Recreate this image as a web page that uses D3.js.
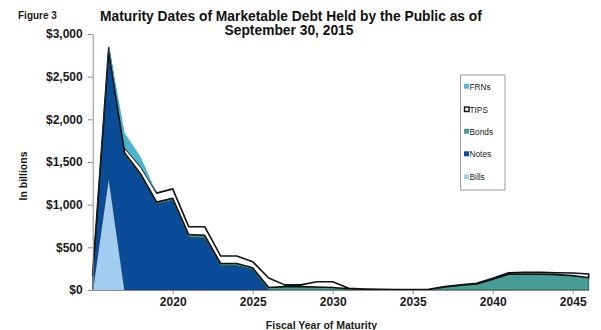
<!DOCTYPE html>
<html>
<head>
<meta charset="utf-8">
<script src="https://cdn.jsdelivr.net/npm/d3@7/dist/d3.min.js"></script>
<style>
  html, body { margin: 0; padding: 0; background: #fff; }
  svg { display: block; font-family: "Liberation Sans", Arial, sans-serif; }
</style>
</head>
<body>
<svg id="chart" width="601" height="330"></svg>
<script>
// Fiscal years of maturity (category axis)
const years = [2015, 2016, 2017, 2018, 2019, 2020, 2021, 2022, 2023, 2024, 2025,
               2026, 2027, 2028, 2029, 2030, 2031, 2032, 2033, 2034, 2035, 2036,
               2037, 2038, 2039, 2040, 2041, 2042, 2043, 2044, 2045, 2046];

// Marketable debt maturing in each year, billions of dollars
const bills = [0, 1330, 0, 0, 0, 0, 0, 0, 0, 0, 0,
               0, 0, 0, 0, 0, 0, 0, 0, 0, 0, 0,
               0, 0, 0, 0, 0, 0, 0, 0, 0, 0];
const notes = [170, 1460, 1580, 1340, 1010, 1050, 620, 610, 285, 285, 240,
               0, 0, 0, 0, 0, 0, 0, 0, 0, 0, 0,
               0, 0, 0, 0, 0, 0, 0, 0, 0, 0];
const bonds = [0, 10, 25, 20, 20, 25, 30, 30, 25, 25, 20,
               30, 40, 40, 35, 30, 15, 8, 5, 3, 3, 5,
               35, 55, 70, 125, 185, 185, 185, 180, 168, 144];
const tips  = [20, 40, 60, 85, 105, 110, 92, 102, 88, 88, 72,
               110, 20, 20, 62, 67, 5, 4, 2, 2, 2, 2,
               5, 5, 8, 12, 18, 22, 22, 23, 32, 44];
const frns  = [0, 30, 175, 115, 0, 0, 0, 0, 0, 0, 0,
               0, 0, 0, 0, 0, 0, 0, 0, 0, 0, 0,
               0, 0, 0, 0, 0, 0, 0, 0, 0, 0];

// Axis ticks
const xTicks = [2020, 2025, 2030, 2035, 2040, 2045];
const yTicks = [0, 500, 1000, 1500, 2000, 2500, 3000];

// Series, bottom to top in the stack
const seriesKeys  = ["Bills", "Notes", "Bonds", "TIPS", "FRNs"];
const legendOrder = ["FRNs", "TIPS", "Bonds", "Notes", "Bills"];

const style = {
  Bills: { fill: "#a3cdf0", stroke: "none", width: 0 },
  Notes: { fill: "#0b4c98", stroke: "#07336a", width: 0.8 },
  Bonds: { fill: "#469e97", stroke: "#1d4f4b", width: 0.8 },
  TIPS:  { fill: "#ffffff", stroke: "#111111", width: 1.6 },
  FRNs:  { fill: "#4cb3cb", stroke: "none", width: 0 }
};

const table = years.map((yr, i) => ({
  year: yr, Bills: bills[i], Notes: notes[i], Bonds: bonds[i], TIPS: tips[i], FRNs: frns[i]
}));

const svg = d3.select("#chart");
const plotLeft = 92.7, plotRight = 588.7, plotTop = 34, plotBottom = 290;

const x = d3.scaleLinear().domain([2015, 2046]).range([plotLeft, plotRight]);
const y = d3.scaleLinear().domain([0, 3000]).range([plotBottom, plotTop]);

const stacked = d3.stack().keys(seriesKeys)(table);

const area = d3.area()
  .x(d => x(d.data.year))
  .y0(d => y(d[0]))
  .y1(d => y(d[1]));

svg.append("g").selectAll("path")
  .data(stacked)
  .join("path")
  .attr("d", area)
  .attr("fill", d => style[d.key].fill)
  .attr("stroke", d => style[d.key].stroke)
  .attr("stroke-width", d => style[d.key].width)
  .attr("stroke-linejoin", "round");

// Y axis
const yAxis = svg.append("g")
  .attr("transform", `translate(${plotLeft},0)`)
  .call(d3.axisLeft(y).tickValues(yTicks).tickFormat(d3.format("$,")).tickSize(5).tickSizeOuter(0));
yAxis.select(".domain").attr("stroke", "#8a8a8a");
yAxis.selectAll(".tick line").attr("stroke", "#8a8a8a");
yAxis.selectAll(".tick text")
  .attr("x", -10)
  .attr("fill", "#1a1a1a")
  .style("font-size", "12px")
  .style("font-weight", "bold")
  .style("font-family", "'Liberation Sans', Arial, sans-serif");

// X axis
const xAxis = svg.append("g")
  .attr("transform", `translate(0,${plotBottom})`)
  .call(d3.axisBottom(x).tickValues(xTicks).tickFormat(d3.format("d")).tickSize(4).tickSizeOuter(0));
xAxis.select(".domain").attr("stroke", "#8a8a8a");
xAxis.selectAll(".tick line").attr("stroke", "#8a8a8a");
xAxis.selectAll(".tick text")
  .attr("y", 7)
  .attr("fill", "#1a1a1a")
  .style("font-size", "12px")
  .style("font-weight", "bold")
  .style("font-family", "'Liberation Sans', Arial, sans-serif");

// Titles
svg.append("text").attr("x", 18).attr("y", 19)
  .style("font-size", "10px").style("font-weight", "bold").attr("fill", "#1a1a1a")
  .text("Figure 3");

svg.append("text").attr("x", 291).attr("y", 21).attr("text-anchor", "middle")
  .style("font-size", "13.8px").style("font-weight", "bold").attr("fill", "#111")
  .text("Maturity Dates of Marketable Debt Held by the Public as of");
svg.append("text").attr("x", 289).attr("y", 35).attr("text-anchor", "middle")
  .style("font-size", "13.8px").style("font-weight", "bold").attr("fill", "#111")
  .text("September 30, 2015");

svg.append("text")
  .attr("transform", "translate(27,176) rotate(-90)")
  .attr("text-anchor", "middle")
  .style("font-size", "10.5px").style("font-weight", "bold").attr("fill", "#1a1a1a")
  .text("In billions");

svg.append("text").attr("x", 321.5).attr("y", 328.5).attr("text-anchor", "middle")
  .style("font-size", "10.5px").style("font-weight", "bold").attr("fill", "#1a1a1a")
  .text("Fiscal Year of Maturity");

// Legend
const legend = svg.append("g");
legend.append("rect")
  .attr("x", 460.5).attr("y", 75).attr("width", 44.5).attr("height", 115)
  .attr("fill", "#fff").attr("stroke", "#9a9a9a").attr("stroke-width", 1);

const legendY = [86.7, 109.5, 131.7, 154.3, 177.3];
legendOrder.forEach((k, i) => {
  const g = legend.append("g").attr("transform", `translate(464,${legendY[i]})`);
  const s = style[k];
  if (k === "TIPS") {
    g.append("rect").attr("x", 0.5).attr("y", -2.5).attr("width", 4.5).attr("height", 4.5)
      .attr("fill", "#fff").attr("stroke", "#111").attr("stroke-width", 1.4);
  } else {
    g.append("rect").attr("x", 0).attr("y", -3).attr("width", 5).attr("height", 5)
      .attr("fill", k === "FRNs" ? "#5ab4d6" : s.fill);
  }
  g.append("text").attr("x", 5.5).attr("y", 3)
    .style("font-size", "8.3px").attr("fill", "#1a1a1a")
    .text(k);
});
</script>
</body>
</html>
